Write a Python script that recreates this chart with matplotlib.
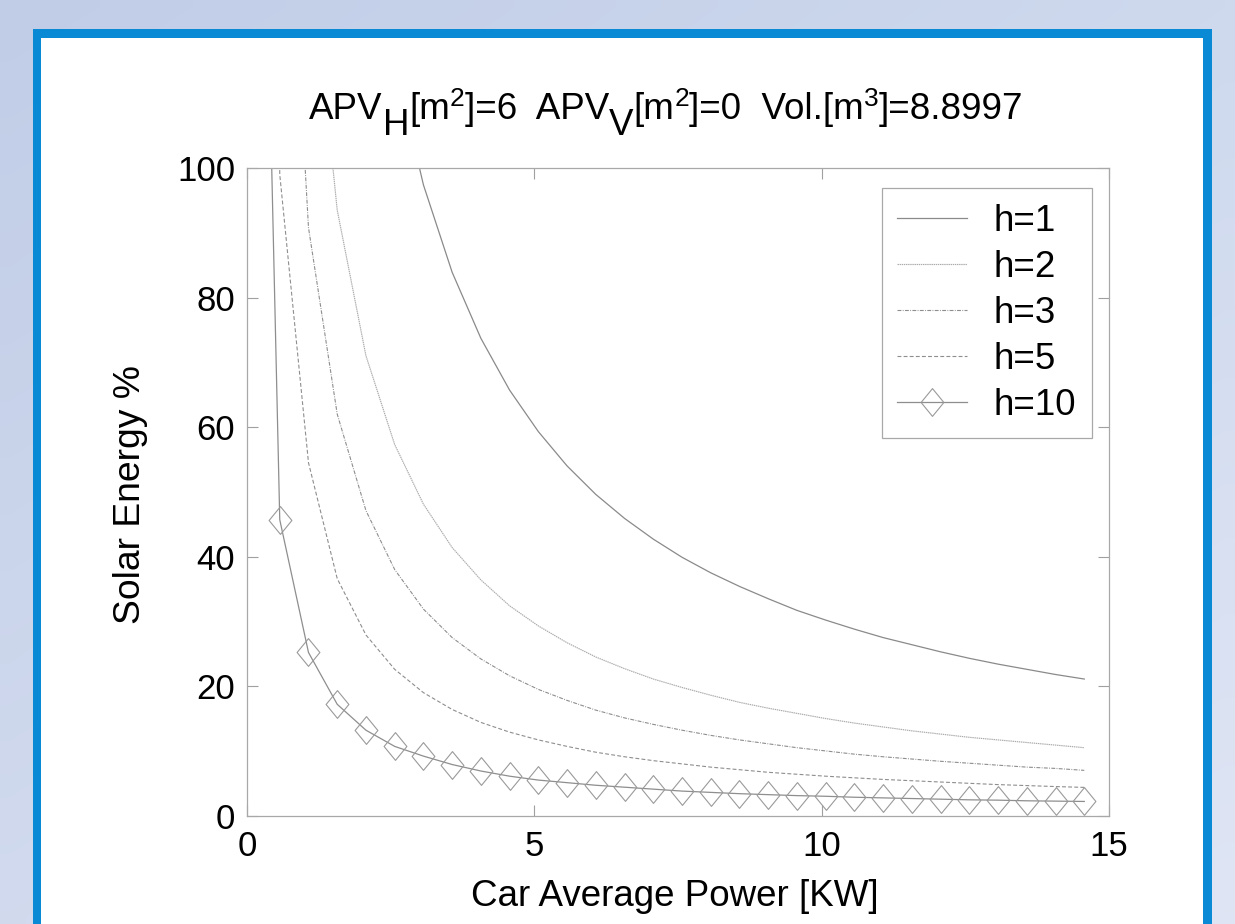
import numpy as np
import matplotlib
matplotlib.use("Agg")
import matplotlib.pyplot as plt
from matplotlib.path import Path
from matplotlib.patches import Rectangle

plt.rcParams['font.family'] = ['Liberation Sans', 'DejaVu Sans']

# ---------------- data ----------------
power_kw = [0.07, 0.57, 1.07, 1.57, 2.07, 2.57, 3.07, 3.57, 4.07, 4.57,
            5.07, 5.57, 6.07, 6.57, 7.07, 7.57, 8.07, 8.57, 9.07, 9.57,
            10.07, 10.57, 11.07, 11.57, 12.07, 12.57, 13.07, 13.57, 14.07, 14.57]

h1 = [4244, 521.6, 278.3, 189.9, 144.2, 116.3, 97.4, 83.9, 73.7, 65.7,
      59.3, 54.0, 49.6, 45.9, 42.7, 39.9, 37.5, 35.4, 33.5, 31.7,
      30.2, 28.8, 27.5, 26.4, 25.3, 24.3, 23.4, 22.6, 21.8, 21.1]
h2 = [2086, 256.6, 137.0, 93.5, 71.0, 57.3, 48.1, 41.4, 36.4, 32.4,
      29.3, 26.7, 24.5, 22.7, 21.1, 19.8, 18.6, 17.5, 16.6, 15.8,
      15.0, 14.3, 13.7, 13.1, 12.6, 12.1, 11.7, 11.3, 10.9, 10.5]
h3 = [1382, 170.0, 90.8, 62.0, 47.1, 38.0, 31.9, 27.5, 24.2, 21.6,
      19.5, 17.8, 16.3, 15.1, 14.1, 13.2, 12.4, 11.7, 11.1, 10.5,
      10.0, 9.5, 9.1, 8.75, 8.4, 8.1, 7.8, 7.5, 7.3, 7.0]
h5 = [812, 99.0, 54.5, 36.6, 27.9, 22.6, 19.0, 16.4, 14.4, 12.9,
      11.7, 10.7, 9.8, 9.1, 8.5, 8.0, 7.5, 7.1, 6.7, 6.4,
      6.1, 5.85, 5.6, 5.4, 5.2, 5.0, 4.8, 4.65, 4.5, 4.37]
h10 = [240, 45.7, 25.2, 17.2, 13.2, 10.7, 9.2, 7.9, 6.9, 6.1,
       5.5, 5.1, 4.7, 4.4, 4.1, 3.8, 3.6, 3.4, 3.25, 3.1,
       3.0, 2.85, 2.75, 2.65, 2.55, 2.45, 2.4, 2.3, 2.25, 2.2]

series_labels = ['h=1', 'h=2', 'h=3', 'h=5', 'h=10']
x_ticks = [0, 5, 10, 15]
y_ticks = [0, 20, 40, 60, 80, 100]
x_label = 'Car Average Power [KW]'
y_label = 'Solar Energy %'

# ---------------- figure ----------------
W, H = 1235, 924
fig = plt.figure(figsize=(W / 100, H / 100), dpi=100)

# background (gradient + blue frame + white panel)
bg = fig.add_axes([0, 0, 1, 1], zorder=-5)
bg.set_xlim(0, W)
bg.set_ylim(H, 0)
bg.axis('off')
tl = np.array([0.757, 0.804, 0.906])
tr = np.array([0.808, 0.851, 0.933])
bl = np.array([0.820, 0.855, 0.933])
br = np.array([0.875, 0.898, 0.957])
u = np.linspace(0, 1, 64)[None, :, None]
v = np.linspace(0, 1, 64)[:, None, None]
grad = (1 - u) * (1 - v) * tl + u * (1 - v) * tr + (1 - u) * v * bl + u * v * br
bg.imshow(grad, extent=(0, W, H, 0), aspect='auto', interpolation='bilinear')
bg.add_patch(Rectangle((33, 29), 1212.3 - 33, H + 10 - 29, facecolor='#0a8ad4', edgecolor='none'))
bg.add_patch(Rectangle((41.3, 37.7), 1203.3 - 41.3, H + 10 - 37.7, facecolor='white', edgecolor='none'))

# main axes
ax_l, ax_r, ax_t, ax_b = 247, 1109, 168, 815.7
ax = fig.add_axes([ax_l / W, (H - ax_b) / H, (ax_r - ax_l) / W, (ax_b - ax_t) / H])
ax.set_facecolor('white')

diamond = Path([(0, 1), (0.82, 0), (0, -1), (-0.82, 0), (0, 1)],
               [Path.MOVETO, Path.LINETO, Path.LINETO, Path.LINETO, Path.CLOSEPOLY])

ax.plot(power_kw, h1, color='#8a8a8a', lw=0.9, ls='-', label=series_labels[0])
ax.plot(power_kw, h2, color='#ababab', lw=0.85, dashes=(1.2, 0.6), label=series_labels[1])
ax.plot(power_kw, h3, color='#8e8e8e', lw=0.8, dashes=(3.5, 1.2, 0.8, 1.2), label=series_labels[2])
ax.plot(power_kw, h5, color='#8e8e8e', lw=0.8, dashes=(3.5, 2.0), label=series_labels[3])
ax.plot(power_kw, h10, color='#8e8e8e', lw=0.9, ls='-', marker=diamond, markersize=20,
        markerfacecolor='none', markeredgecolor='#9a9a9a', markeredgewidth=0.8,
        label=series_labels[4])

ax.set_xlim(0, 15)
ax.set_ylim(0, 100)
ax.set_xticks(x_ticks)
ax.set_yticks(y_ticks)
ax.set_xticklabels([str(t) for t in x_ticks])
ax.set_yticklabels([str(t) for t in y_ticks])
for s in ax.spines.values():
    s.set_color('#a8a8a8')
    s.set_linewidth(0.9)
ax.tick_params(axis='both', which='both', direction='in', length=8, width=0.8,
               color='#a0a0a0', labelsize=25, labelcolor='black',
               top=True, right=True)
ax.tick_params(axis='x', pad=10)
ax.tick_params(axis='y', pad=8.5)

leg = ax.legend(loc='upper right', bbox_to_anchor=(0.980, 0.969), borderaxespad=0,
                fontsize=26.5, frameon=True, fancybox=False, framealpha=1,
                edgecolor='#a8a8a8', handlelength=1.9, handletextpad=0.72,
                labelspacing=0.3, borderpad=0.42, numpoints=1)
leg.get_frame().set_linewidth(0.9)

# axis labels
fig.text(675 / W, (H - 905.7) / H, x_label, fontsize=26.5, ha='center', va='baseline')
fig.text(130 / W, (H - 494) / H, y_label, fontsize=26.8, rotation=90, ha='center', va='center')

# title with MATLAB-like full-size subscripts and small superscripts
pieces = [('APV', 26.5, 0), ('H', 26.5, -16), ('[m', 26.5, 0), ('2', 19, 13), (']=6  APV', 26.5, 0),
          ('V', 26.5, -16), ('[m', 26.5, 0), ('2', 19, 13), (']=0  Vol.[m', 26.5, 0),
          ('3', 19, 13), (']=8.8997', 26.5, 0)]
renderer = fig.canvas.get_renderer()
texts = []
widths = []
for s, fs, dy in pieces:
    t = fig.text(0, 0, s, fontsize=fs, ha='left', va='baseline')
    widths.append(t.get_window_extent(renderer).width)
    texts.append((t, dy))
total = sum(widths)
x = 666 - total / 2
base = 119
for (t, dy), w in zip(texts, widths):
    t.set_position((x / W, (H - (base - dy)) / H))
    x += w

fig.savefig('out.png', dpi=100)
